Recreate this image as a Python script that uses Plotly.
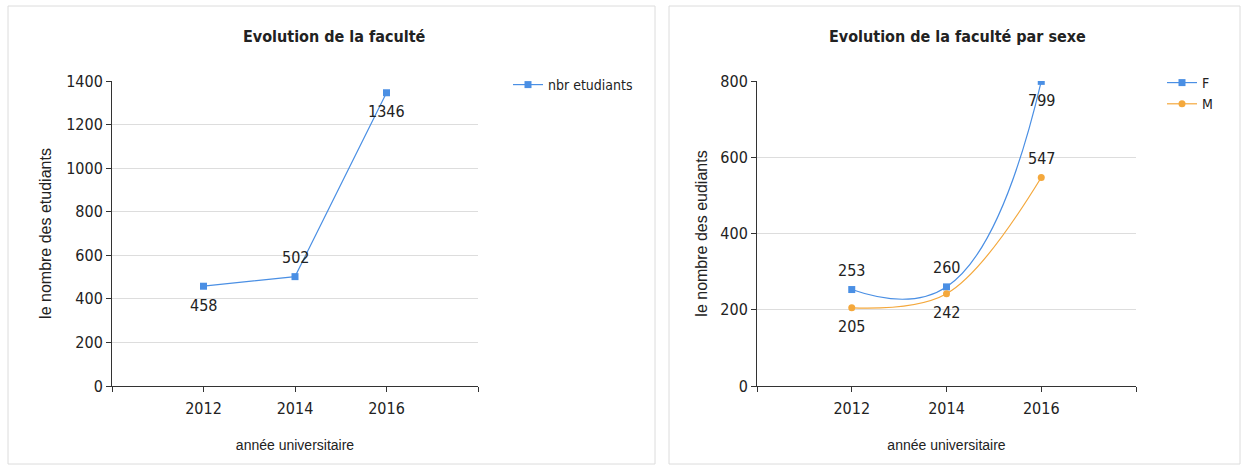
import plotly.graph_objects as go

# ---- data ----
years = [2012, 2014, 2016]
total_students = [458, 502, 1346]
female = [253, 260, 799]
male = [205, 242, 547]

x_tickvals = [2010, 2012, 2014, 2016, 2018]
x_ticktext = ["", "2012", "2014", "2016", ""]

title_left = "Evolution de la faculté"
title_right = "Evolution de la faculté par sexe"
ytitle_left = "le nombre des etudiants"
ytitle_right = "le nombre des eudiants"
xtitle = "année universitaire"

# label placement: +1 above, -1 below
pos_total = [-1, 1, -1]
pos_female = [1, 1, -1]
pos_male = [-1, -1, 1]

W, H = 1246, 466
BLUE = "#4a8fe4"
ORANGE = "#f4a83c"
NARROW = "DejaVu Sans Condensed, Liberation Sans Narrow, Arial Narrow, Liberation Sans, sans-serif"
REG = "Liberation Sans, Arial, sans-serif"
TXT = "#222222"

def px_x(v):
    return v / W

def px_y(v):
    return 1 - v / H

fig = go.Figure()

fig.add_trace(go.Scatter(
    x=years, y=total_students, name="nbr etudiants", mode="lines+markers",
    line=dict(color=BLUE, width=1.2),
    marker=dict(symbol="square", size=7, color=BLUE),
    xaxis="x", yaxis="y", legend="legend",
))
fig.add_trace(go.Scatter(
    x=years, y=female, name="F", mode="lines+markers",
    line=dict(color=BLUE, width=1.2, shape="spline", smoothing=1.3),
    marker=dict(symbol="square", size=7, color=BLUE),
    xaxis="x2", yaxis="y2", legend="legend2",
))
fig.add_trace(go.Scatter(
    x=years, y=male, name="M", mode="lines+markers",
    line=dict(color=ORANGE, width=1.2, shape="spline", smoothing=1.0),
    marker=dict(symbol="circle", size=7, color=ORANGE),
    xaxis="x2", yaxis="y2", legend="legend2",
))

annotations = []
def add_labels(xs, ys, pos, xref, yref):
    for xv, yv, p in zip(xs, ys, pos):
        annotations.append(dict(
            x=xv, y=yv, xref=xref, yref=yref, text=str(yv), showarrow=False,
            xanchor="center", yanchor="middle",
            yshift=19 * p, font=dict(family=NARROW, size=16, color=TXT),
        ))

add_labels(years, total_students, pos_total, "x", "y")
add_labels(years, female, pos_female, "x2", "y2")
add_labels(years, male, pos_male, "x2", "y2")

# titles
annotations.append(dict(x=px_x(334), y=px_y(37), xref="paper", yref="paper",
                        xanchor="center", yanchor="middle",
                        text="<b>" + title_left + "</b>", showarrow=False,
                        font=dict(family=NARROW, size=16, color=TXT)))
annotations.append(dict(x=px_x(957), y=px_y(37), xref="paper", yref="paper",
                        xanchor="center", yanchor="middle",
                        text="<b>" + title_right + "</b>", showarrow=False,
                        font=dict(family=NARROW, size=16, color=TXT)))

axis_common = dict(
    showline=True, linecolor="#333333", linewidth=1,
    ticks="outside", ticklen=5, tickcolor="#333333",
    tickfont=dict(family=NARROW, size=16, color=TXT),
    zeroline=False, fixedrange=True, automargin=False,
)

xaxis_common = dict(axis_common, range=[2010, 2018], tickvals=x_tickvals,
                    ticktext=x_ticktext, showgrid=False, ticklabelstandoff=3,
                    title=dict(text=xtitle, font=dict(family=REG, size=14, color=TXT),
                               standoff=22))

fig.update_layout(
    width=W, height=H,
    margin=dict(l=0, r=0, t=0, b=0, autoexpand=False),
    paper_bgcolor="white", plot_bgcolor="white",
    showlegend=True,
    xaxis=dict(xaxis_common, domain=[px_x(112), px_x(478)], anchor="y"),
    yaxis=dict(axis_common, domain=[px_y(386), px_y(81)], anchor="x",
               range=[0, 1400], dtick=200, showgrid=True, gridcolor="#dddddd",
               title=dict(text=ytitle_left, font=dict(family=REG, size=16, color=TXT),
                          standoff=10)),
    xaxis2=dict(xaxis_common, domain=[px_x(757), px_x(1136)], anchor="y2"),
    yaxis2=dict(axis_common, domain=[px_y(386), px_y(81)], anchor="x2",
                range=[0, 800], dtick=200, showgrid=True, gridcolor="#dddddd",
                title=dict(text=ytitle_right, font=dict(family=REG, size=16, color=TXT),
                           standoff=8)),
    legend=dict(x=px_x(508), y=px_y(69), xanchor="left", yanchor="top",
                font=dict(family=NARROW, size=14, color=TXT), bgcolor="rgba(0,0,0,0)",
                itemwidth=30, tracegroupgap=0),
    legend2=dict(x=px_x(1162), y=px_y(67), xanchor="left", yanchor="top",
                 font=dict(family=NARROW, size=14, color=TXT), bgcolor="rgba(0,0,0,0)",
                 itemwidth=30, tracegroupgap=0),
    annotations=annotations,
    shapes=[
        dict(type="rect", xref="paper", yref="paper",
             x0=px_x(8), x1=px_x(655), y0=px_y(464), y1=px_y(6),
             line=dict(color="#dcdcdc", width=1)),
        dict(type="rect", xref="paper", yref="paper",
             x0=px_x(669), x1=px_x(1240), y0=px_y(464), y1=px_y(6),
             line=dict(color="#dcdcdc", width=1)),
    ],
)

fig.write_html("out.html", config={"displayModeBar": False})
